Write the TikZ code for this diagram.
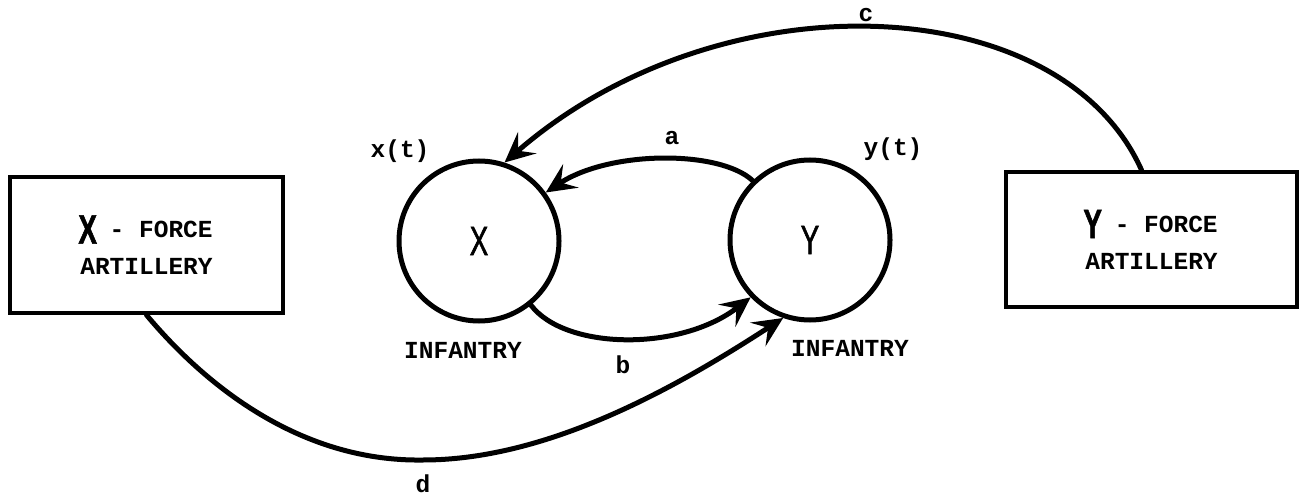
\documentclass[tikz,border=0pt]{standalone}
\usepackage{graphicx}
\usepackage{fontspec}
\setmonofont{Liberation Mono}
\newfontfamily\bigsans[FakeStretch=0.68,FakeBold=1.2]{Liberation Sans}
\usetikzlibrary{arrows.meta}
\newcommand{\BigLetter}[1]{{\bigsans\fontsize{41}{41}\selectfont #1}}
\tikzset{
  mytip/.tip={Stealth[length=30pt,width=28pt,inset=12pt]},
}
\begin{document}
\begin{tikzpicture}[x=1pt,y=-1pt,
  typ/.style={font=\ttfamily\bfseries\fontsize{24.5}{28}\selectfont, inner sep=0pt},
  forcebox/.style={draw, line width=4pt, minimum width=273pt, minimum height=136pt, align=center, inner sep=0pt,
    font=\ttfamily\bfseries\fontsize{24.5}{37}\selectfont},
  infantry/.style={draw, circle, line width=5pt, minimum size=160pt, inner sep=0pt},
  link/.style={line width=5pt, line cap=round, -mytip},
]
\useasboundingbox (0,0) rectangle (1303,497);

\node[forcebox] (Xbox) at (146.5,245) {\makebox[14.7pt]{\raisebox{-6pt}{\BigLetter{X}}} - FORCE\\ARTILLERY};
\node[forcebox, minimum width=291pt, minimum height=135pt] (Ybox) at (1151.5,239.5) {\makebox[14.7pt]{\raisebox{-6pt}{\BigLetter{Y}}} - FORCE\\ARTILLERY};

\node[infantry] (X) at (479,241) {\BigLetter{X}};
\node[infantry] (Y) at (810,240) {\BigLetter{Y}};

\node[typ] (xt) at (400,151) {x(t)};
\node[typ] (yt) at (893,149) {y(t)};
\node[typ] (xinf) at (463,350) {INFANTRY};
\node[typ] (yinf) at (850,348) {INFANTRY};

\node[typ] (la) at (672,138) {a};
\node[typ] (lb) at (623,365) {b};
\node[typ] (lc) at (866,15) {c};
\node[typ] (ld) at (423,484) {d};

\draw[link] (Y.134) .. controls (720,150) and (610,150) .. (X.36);
\draw[link] (X.-51) .. controls (565,350) and (680,352) .. (Y.224);
\draw[link] ([xshift=-10pt]Ybox.north) .. controls (1060,-12) and (720,-25) .. (X.72);
\draw[link] (Xbox.south) .. controls (205,385) and (300,462) .. (423,460)
  .. controls (550,460) and (680,385) .. (Y.251);
\end{tikzpicture}
\end{document}
